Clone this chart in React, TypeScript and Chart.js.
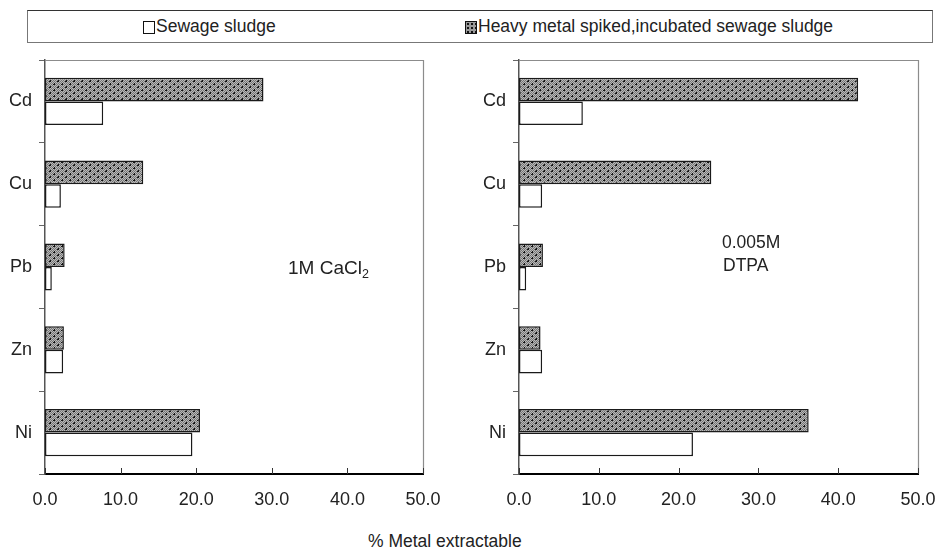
import React, { useEffect, useRef } from 'react';
import { Chart, registerables } from 'chart.js';

Chart.register(...registerables);

const categories = ['Cd', 'Cu', 'Pb', 'Zn', 'Ni'];
const cacl2Sewage = [7.7, 2.1, 0.9, 2.4, 19.5];
const cacl2Spiked = [28.9, 13.0, 2.6, 2.5, 20.5];
const dtpaSewage = [8.0, 2.9, 0.9, 2.9, 21.8];
const dtpaSpiked = [42.5, 24.1, 3.0, 2.7, 36.3];
const xTickValues = [0, 10, 20, 30, 40, 50];

const FONT = '"Liberation Sans", Arial, sans-serif';

function makePattern(): CanvasPattern | string {
  const c = document.createElement('canvas');
  c.width = 8;
  c.height = 6;
  const p = c.getContext('2d');
  if (!p) return '#999';
  p.fillStyle = '#9c9c9c';
  p.fillRect(0, 0, 8, 6);
  for (let y = 0; y < 6; y++) {
    for (let x = 0; x < 8; x++) {
      p.fillStyle = (x + y) % 2 === 0 ? '#b8b8b8' : '#767676';
      p.fillRect(x, y, 1, 1);
    }
  }
  p.fillStyle = '#111';
  p.fillRect(1, 1, 2, 1);
  p.fillRect(2, 0, 1, 2);
  p.fillRect(5, 4, 2, 1);
  p.fillRect(6, 3, 1, 2);
  const pat = p.createPattern(c, 'repeat');
  return pat || '#999';
}

const framePlugin = {
  id: 'frameTicks',
  afterDraw(chart: any) {
    const { ctx, chartArea } = chart;
    const { left, top, right, bottom } = chartArea;
    const x = chart.scales.x;
    ctx.save();
    ctx.strokeStyle = '#8c8c8c';
    ctx.lineWidth = 1.2;
    ctx.beginPath();
    ctx.moveTo(left, top + 0.5);
    ctx.lineTo(right + 0.5, top + 0.5);
    ctx.lineTo(right + 0.5, bottom);
    ctx.stroke();
    ctx.strokeStyle = '#333';
    ctx.lineWidth = 1;
    ctx.beginPath();
    xTickValues.forEach((v) => {
      const px = Math.round(x.getPixelForValue(v)) + 0.5;
      ctx.moveTo(px, bottom);
      ctx.lineTo(px, bottom - 6);
    });
    ctx.stroke();
    ctx.restore();
  },
};

function BarPanel(props: {
  sewage: number[];
  spiked: number[];
  yWidth: number;
  padRight: number;
  padTop: number;
  style: React.CSSProperties;
}) {
  const ref = useRef<HTMLCanvasElement>(null);
  useEffect(() => {
    if (!ref.current) return;
    const pattern = makePattern();
    const chart = new Chart(ref.current, {
      type: 'bar',
      data: {
        labels: categories,
        datasets: [
          {
            label: 'Heavy metal spiked,incubated sewage sludge',
            data: props.spiked,
            backgroundColor: pattern as any,
            borderColor: '#1a1a1a',
            borderWidth: 1.5,
            borderSkipped: false,
            categoryPercentage: 0.57,
            barPercentage: 1.0,
          },
          {
            label: 'Sewage sludge',
            data: props.sewage,
            backgroundColor: '#ffffff',
            borderColor: '#1a1a1a',
            borderWidth: 1.5,
            borderSkipped: false,
            categoryPercentage: 0.57,
            barPercentage: 1.0,
          },
        ],
      },
      options: {
        indexAxis: 'y',
        animation: false,
        responsive: false,
        maintainAspectRatio: false,
        layout: { padding: { top: props.padTop, right: props.padRight, left: 0, bottom: 0 } },
        plugins: {
          legend: { display: false },
          tooltip: { enabled: false },
          title: { display: false },
        },
        scales: {
          x: {
            type: 'linear',
            min: 0,
            max: 50,
            afterBuildTicks: (s: any) => {
              s.ticks = xTickValues.map((v) => ({ value: v }));
            },
            afterFit: (s: any) => {
              s.height = 46;
              s.paddingLeft = 0;
              s.paddingRight = 0;
            },
            grid: { display: false, drawTicks: false },
            border: { display: true, color: '#000', width: 2 },
            ticks: {
              padding: 15,
              color: '#222',
              font: { family: FONT, size: 18 },
              callback: (v: any) => Number(v).toFixed(1),
            },
          },
          y: {
            type: 'category',
            afterFit: (s: any) => {
              s.width = props.yWidth;
              s.paddingTop = 0;
              s.paddingBottom = 0;
            },
            grid: {
              display: true,
              drawOnChartArea: false,
              drawTicks: true,
              tickLength: 6,
              color: '#666',
              offset: true,
            },
            border: { display: true, color: '#555', width: 1.5 },
            ticks: {
              padding: 7,
              color: '#222',
              font: { family: FONT, size: 18 },
            },
          },
        },
      },
      plugins: [framePlugin],
    });
    return () => chart.destroy();
  }, []);
  return <canvas ref={ref} style={{ position: 'absolute', ...props.style }} width={props.style.width as number} height={props.style.height as number} />;
}

export default function App() {
  const txt: React.CSSProperties = {
    position: 'absolute',
    fontFamily: FONT,
    fontSize: 17.5,
    color: '#222',
    lineHeight: '20px',
    whiteSpace: 'nowrap',
  };
  return (
    <div style={{ position: 'absolute', left: 0, top: 0, width: 935, height: 549, background: '#fff', overflow: 'hidden' }}>
      <div
        style={{
          position: 'absolute',
          left: 27,
          top: 10,
          width: 904,
          height: 31,
          borderTop: '1.5px solid #333',
          borderLeft: '1px solid #777',
          borderRight: '1px solid #777',
          borderBottom: '1.5px solid #777',
        }}
      />
      <div style={{ position: 'absolute', left: 143, top: 21, width: 10, height: 11, border: '1px solid #111', background: '#fff' }} />
      <div style={{ ...txt, left: 156, top: 16 }}>Sewage sludge</div>
      <div
        style={{
          position: 'absolute',
          left: 465,
          top: 21,
          width: 10,
          height: 11,
          border: '1px solid #111',
          backgroundColor: '#9a9a9a',
          backgroundImage: 'radial-gradient(#111 0.7px, transparent 1.1px)',
          backgroundSize: '4px 4px',
        }}
      />
      <div style={{ ...txt, left: 478, top: 16 }}>Heavy metal spiked,incubated sewage sludge</div>

      <BarPanel sewage={cacl2Sewage} spiked={cacl2Spiked} yWidth={45} padRight={17} padTop={10} style={{ left: 0, top: 50, width: 440, height: 470 }} />
      <BarPanel sewage={dtpaSewage} spiked={dtpaSpiked} yWidth={49} padRight={17} padTop={10} style={{ left: 470, top: 50, width: 465, height: 470 }} />

      <div style={{ ...txt, fontSize: 19, left: 288, top: 258 }}>
        1M CaCl<sub style={{ fontSize: 12.5, verticalAlign: '-4px', lineHeight: 0 }}>2</sub>
      </div>
      <div style={{ ...txt, left: 722, top: 232 }}>0.005M</div>
      <div style={{ ...txt, left: 723, top: 255 }}>DTPA</div>
      <div style={{ ...txt, left: 368, top: 531 }}>% Metal extractable</div>
    </div>
  );
}
